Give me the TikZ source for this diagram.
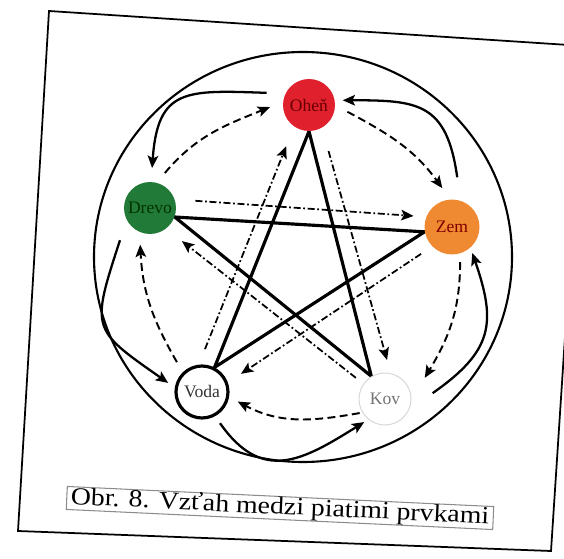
\documentclass[tikz,border=0pt]{standalone}
\usepackage{fontspec}
\setmainfont{Liberation Serif}
\usetikzlibrary{arrows.meta,calc,backgrounds}

\definecolor{ohenred}{RGB}{225,32,45}
\definecolor{drevogreen}{RGB}{34,122,56}
\definecolor{zemorange}{RGB}{240,138,50}

\begin{document}
\begin{tikzpicture}[
    x=0.02cm, y=0.02cm,
    font=\fontsize{10}{10}\selectfont,
    >={Stealth[length=7pt,width=6pt,inset=1.5pt]},
    prvok/.style={circle, minimum size=1.04cm, inner sep=0pt},
    kruh/.style={line width=1.2pt},
    cykl/.style={->, line width=1.3pt, looseness=1.3},
    tvorba/.style={->, line width=1.1pt, dash pattern=on 4.5pt off 2.5pt},
    kontrola/.style={->, line width=1pt, dash pattern=on 4pt off 1.5pt on 1pt off 1.5pt},
    hviezda/.style={line width=1.8pt, line join=miter},
]
\useasboundingbox (0,0) rectangle (564,558);

% Frame of the scanned figure
\draw[line width=1pt] (49,547) -- (584,512) -- (551,7) -- (18,27) -- cycle;

% Elements
\node[prvok, fill=ohenred, text=red!40!black] (ohen) at (309,453) {Oheň};
\node[prvok, fill=drevogreen, text=green!20!black] (drevo) at (150,350) {Drevo};
\node[prvok, fill=zemorange, minimum size=1.1cm, text=red!50!black] (zem) at (452,331) {Zem};
\node[prvok, fill=white, draw=black, line width=1.8pt, text=black!80] (voda) at (202,166) {Voda};
\node[prvok, fill=white, draw=black!15, line width=0.6pt, text=black!55] (kov) at (385,159) {Kov};

\begin{scope}[on background layer]
% big circle
\draw[kruh] (303,301) ellipse [x radius=209, y radius=205];

% Star
\draw[hviezda] (ohen.270) -- (voda.63) -- (zem.190) -- (drevo.340) -- (kov.121) -- cycle;

% Outer curved arrows
\draw[cykl, looseness=1.5] ($(ohen)+(164:44)$) to[out=178, in=86] ($(drevo)+(87:40)$);
\draw[cykl, looseness=1.6] ($(drevo)+(227:44)$) to[out=252, in=145] ($(voda)+(165:35)$);
\draw[cykl] ($(voda)+(300:36)$) to[out=305, in=212] ($(kov)+(228:31)$);
\draw[cykl, looseness=1.3] ($(kov)+(7:48)$) to[out=35, in=289] ($(zem)+(308:33)$);
\draw[cykl, looseness=1.4] ($(zem)+(84:50)$) to[out=98, in=0] ($(ohen)+(8:34)$);

% Dashed arrows (generating)
\draw[tvorba] ($(drevo)+(67:38)$) to[out=50, in=202] ($(ohen)+(183:39)$);
\draw[tvorba] ($(ohen)+(350:39)$) to[out=-28, in=126] ($(zem)+(104:40)$);
\draw[tvorba] ($(zem)+(283:36)$) to[out=270, in=59] ($(kov)+(28:45)$);
\draw[tvorba] ($(kov)+(209:29)$) to[out=190, in=332] ($(voda)+(345:37)$);
\draw[tvorba] ($(voda)+(130:39)$) to[out=120, in=273] ($(drevo)+(255:38)$);

% Dash-dotted arrows (controlling)
\draw[kontrola] ($(drevo)+(9:46)$) -- ($(zem)+(164:40)$);
\draw[kontrola] ($(ohen)+(293:50)$) -- ($(kov)+(87:39)$);
\draw[kontrola] ($(kov)+(144:36)$) -- ($(drevo)+(314:46)$);
\draw[kontrola] ($(zem)+(221:41)$) -- ($(voda)+(25:43)$);
\draw[kontrola] ($(voda)+(86:43)$) -- ($(ohen)+(241:47)$);
\end{scope}

% Caption
\node[draw=black!45, line width=0.6pt, rotate=-2.7, minimum width=8.54cm, minimum height=0.46cm, inner sep=0pt,
      font=\fontsize{14}{14}\selectfont] (popis) at (280,50)
    {\scalebox{1.13}[1]{Obr. 8. Vzťah medzi piatimi prvkami}};

\end{tikzpicture}
\end{document}
